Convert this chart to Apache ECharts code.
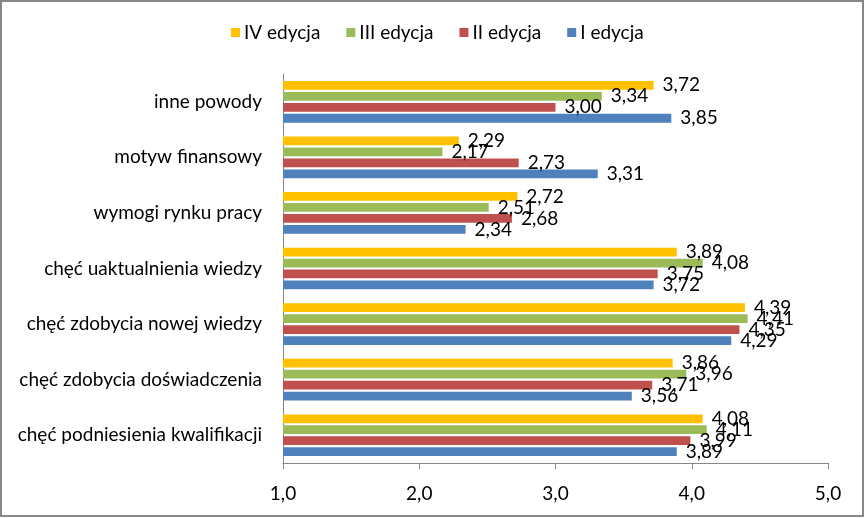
<!DOCTYPE html>
<html>
<head>
<meta charset="utf-8">
<script src="https://cdn.jsdelivr.net/npm/echarts@6/dist/echarts.min.js"></script>
<style>
html,body{margin:0;padding:0;background:#fff;}
#c{width:865px;height:518px;}
</style>
</head>
<body>
<div id="c"></div>
<script>
const categories = ['chęć podniesienia kwalifikacji','chęć zdobycia doświadczenia','chęć zdobycia nowej wiedzy','chęć uaktualnienia wiedzy','wymogi rynku pracy','motyw finansowy','inne powody'];
const seriesNames = ['IV edycja','III edycja','II edycja','I edycja'];
const edycjaI = [3.89,3.56,4.29,3.72,2.34,3.31,3.85];
const edycjaII = [3.99,3.71,4.35,3.75,2.68,2.73,3.00];
const edycjaIII = [4.11,3.96,4.41,4.08,2.51,2.17,3.34];
const edycjaIV = [4.08,3.86,4.39,3.89,2.72,2.29,3.72];
const xTicks = [1,2,3,4,5];

const colors = ['#FFC000','#9BBB59','#C0504D','#4F81BD'];
const FONT = 'Lato';
const FS = 19;
const allData = [edycjaIV, edycjaIII, edycjaII, edycjaI];

const chart = echarts.init(document.getElementById('c'), null, {renderer:'canvas'});
chart.setOption({
  animation:false,
  backgroundColor:'#fff',
  textStyle:{fontFamily:FONT},
  graphic:[{type:'rect',shape:{x:1,y:1,width:862,height:515},style:{fill:'none',stroke:'#868686',lineWidth:2},silent:true}],
  legend:{
    data:seriesNames,
    left:226, top:18,
    itemWidth:9, itemHeight:9, itemGap:26,
    icon:'rect',
    textStyle:{fontSize:FS,color:'#000',fontFamily:FONT,padding:[0,0,0,-1]}
  },
  grid:{left:283,right:37,top:74,bottom:55,containLabel:false},
  xAxis:{
    type:'value',min:xTicks[0],max:xTicks[xTicks.length-1],interval:1,
    axisLine:{show:true,lineStyle:{color:'#868686',width:1}},
    axisTick:{show:true,length:6,lineStyle:{color:'#868686'}},
    splitLine:{show:false},
    axisLabel:{fontSize:FS,color:'#000',fontFamily:FONT,margin:21,
      formatter:v=>v.toFixed(1).replace('.',',')}
  },
  yAxis:{
    type:'category',data:categories,
    axisLine:{show:true,lineStyle:{color:'#868686',width:1}},
    axisTick:{show:false},
    axisLabel:{fontSize:FS,color:'#000',fontFamily:FONT,margin:21}
  },
  series: allData.map((d,i)=>({
    name:seriesNames[i],type:'bar',data:d,clip:true,
    barGap:'25%',barCategoryGap:'25%',
    itemStyle:{color:colors[i]},
    label:{show:true,position:'right',distance:9,fontSize:FS,color:'#000',fontFamily:FONT,
      formatter:p=>p.value.toFixed(2).replace('.',',')}
  }))
});
</script>
</body>
</html>
